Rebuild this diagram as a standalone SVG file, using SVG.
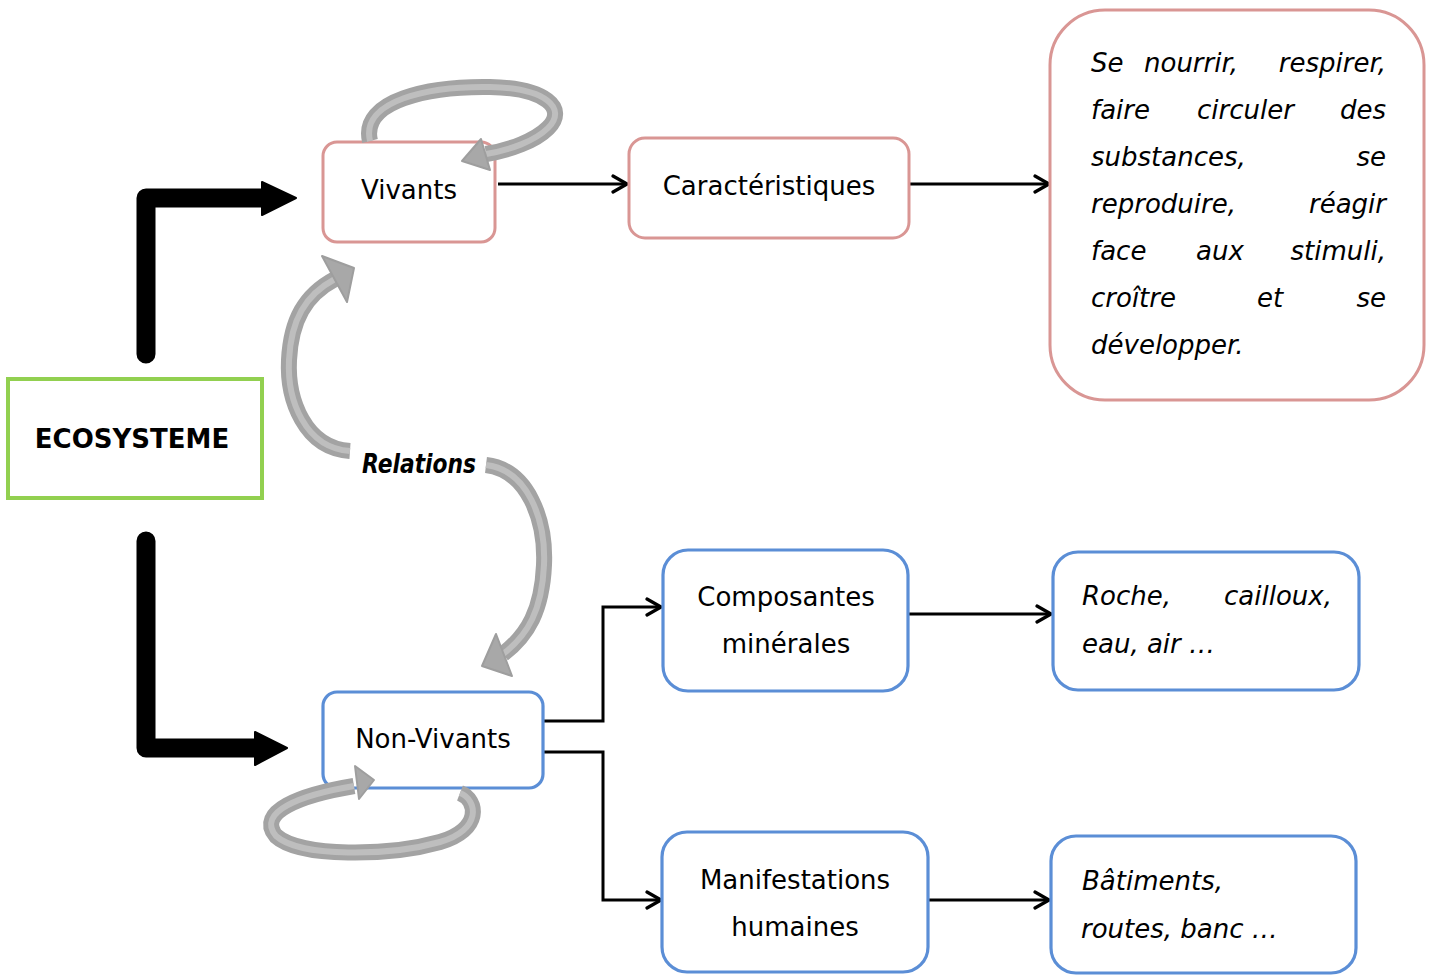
<svg xmlns="http://www.w3.org/2000/svg" width="1433" height="976" viewBox="0 0 1433 976">
<defs>
<style>
.t{font-family:"DejaVu Sans","Liberation Sans",sans-serif;font-size:26px;fill:#000}
.c{text-anchor:middle}
.e{text-anchor:end}
.i{font-style:italic}
.pink{fill:#fff;stroke:#D99694;stroke-width:3}
.blue{fill:#fff;stroke:#5B8ED6;stroke-width:3.2}
.ln{fill:none;stroke:#000;stroke-width:3}
.g1{fill:none;stroke:#A3A3A3;stroke-width:16}
.g2{fill:none;stroke:#BEBEBE;stroke-width:6}
.gh{fill:#A8A8A8;stroke:#9E9E9E;stroke-width:2;stroke-linejoin:round}
.blk{fill:none;stroke:#000;stroke-width:19;stroke-linejoin:round}
</style>
<marker id="open" viewBox="0 0 20 20" refX="18" refY="10" markerWidth="20" markerHeight="20" markerUnits="userSpaceOnUse" orient="auto">
<path d="M4 2 L18 10 L4 18" fill="none" stroke="#000" stroke-width="3.2" stroke-linecap="round" stroke-linejoin="round"/>
</marker>
</defs>
<rect width="1433" height="976" fill="#fff"/>

<g id="connectors">
<path class="blk" d="M146 354 L146 198 L266 198" stroke-linecap="round"/>
<polygon points="262,182 296,198 262,215" fill="#000" stroke="#000" stroke-width="2" stroke-linejoin="round"/>
<path class="blk" d="M146 541 L146 748 L258 748" stroke-linecap="round"/>
<polygon points="255,732 287,748 255,765" fill="#000" stroke="#000" stroke-width="2" stroke-linejoin="round"/>

<path class="ln" d="M498 184 L627 184" marker-end="url(#open)"/>
<path class="ln" d="M910 184 L1049 184" marker-end="url(#open)"/>
<path class="ln" d="M543 721 L603 721 L603 607 L661 607" marker-end="url(#open)"/>
<path class="ln" d="M543 752 L603 752 L603 900 L661 900" marker-end="url(#open)"/>
<path class="ln" d="M909 614 L1051 614" marker-end="url(#open)"/>
<path class="ln" d="M929 900 L1049 900" marker-end="url(#open)"/>
</g>

<g id="ecosysteme">
<rect x="8" y="379" width="254" height="119" fill="#fff" stroke="#92D050" stroke-width="4"/>
<text class="t c" x="132" y="448" font-size="27" font-weight="bold">ECOSYSTEME</text>
</g>

<g id="vivants">
<rect class="pink" x="323" y="142" width="172" height="100" rx="14"/>
<text class="t c" x="409" y="199">Vivants</text>
</g>

<g id="caracteristiques">
<rect class="pink" x="629" y="138" width="280" height="100" rx="16"/>
<text class="t c" x="769" y="195">Caractéristiques</text>
</g>

<g id="description">
<rect class="pink" x="1050" y="10" width="374" height="390" rx="55"/>
<text class="t i" x="1091" y="72">Se</text>
<text class="t i" x="1144" y="72">nourrir,</text>
<text class="t i e" x="1386" y="72">respirer,</text>
<text class="t i" x="1091" y="119">faire</text>
<text class="t i" x="1197" y="119">circuler</text>
<text class="t i e" x="1386" y="119">des</text>
<text class="t i" x="1091" y="166">substances,</text>
<text class="t i e" x="1386" y="166">se</text>
<text class="t i" x="1091" y="213">reproduire,</text>
<text class="t i e" x="1386" y="213">réagir</text>
<text class="t i" x="1091" y="260">face</text>
<text class="t i" x="1196" y="260">aux</text>
<text class="t i e" x="1386" y="260">stimuli,</text>
<text class="t i" x="1091" y="307">croître</text>
<text class="t i" x="1257" y="307">et</text>
<text class="t i e" x="1386" y="307">se</text>
<text class="t i" x="1091" y="354">développer.</text>
</g>

<g id="non-vivants">
<rect class="blue" x="323" y="692" width="220" height="96" rx="14"/>
<text class="t c" x="433" y="748">Non-Vivants</text>
</g>

<g id="composantes">
<rect class="blue" x="663" y="550" width="245" height="141" rx="25"/>
<text class="t c" x="786" y="606">Composantes</text>
<text class="t c" x="786" y="653">minérales</text>
</g>

<g id="manifestations">
<rect class="blue" x="662" y="832" width="266" height="140" rx="25"/>
<text class="t c" x="795" y="889">Manifestations</text>
<text class="t c" x="795" y="936">humaines</text>
</g>

<g id="roche">
<rect class="blue" x="1053" y="552" width="306" height="138" rx="25"/>
<text class="t i" x="1082" y="605">Roche,</text>
<text class="t i e" x="1332" y="605">cailloux,</text>
<text class="t i" x="1082" y="653">eau, air …</text>
</g>

<g id="batiments">
<rect class="blue" x="1051" y="836" width="305" height="137" rx="25"/>
<text class="t i" x="1082" y="890">Bâtiments,</text>
<text class="t i" x="1081" y="938">routes, banc …</text>
</g>

<g id="relation-arrows">
<g id="loop-vivants">
<path class="g1" d="M370 141 C360 100 430 86 490 87 C545 88 568 108 548 128 C535 141 510 150 486 154"/>
<path class="g2" d="M370 141 C360 100 430 86 490 87 C545 88 568 108 548 128 C535 141 510 150 486 154"/>
<polygon class="gh" points="462,161 481,139 490,170"/>
</g>
<g id="relation-up">
<path class="g1" d="M350 451 C305 448 287 400 289 360 C291 320 305 295 335 279"/>
<path class="g2" d="M350 451 C305 448 287 400 289 360 C291 320 305 295 335 279"/>
<polygon class="gh" points="354,268 322,256 347,302"/>
</g>
<g id="relation-down">
<path class="g1" d="M486 465 C528 470 546 520 544 565 C542 610 528 635 503 654"/>
<path class="g2" d="M486 465 C528 470 546 520 544 565 C542 610 528 635 503 654"/>
<polygon class="gh" points="482,666 496,634 512,676"/>
</g>
<g id="loop-nonvivants">
<path class="g1" d="M460 793 C478 800 482 830 440 842 C390 856 300 858 276 836 C256 812 300 795 354 786"/>
<path class="g2" d="M460 793 C478 800 482 830 440 842 C390 856 300 858 276 836 C256 812 300 795 354 786"/>
<polygon class="gh" points="374,780 355,766 359,799"/>
</g>
</g>

<g id="relations-label">
<text class="t i" x="362" y="473" font-size="21" font-weight="bold" textLength="114" lengthAdjust="spacingAndGlyphs">Relations</text>
</g>
</svg>
